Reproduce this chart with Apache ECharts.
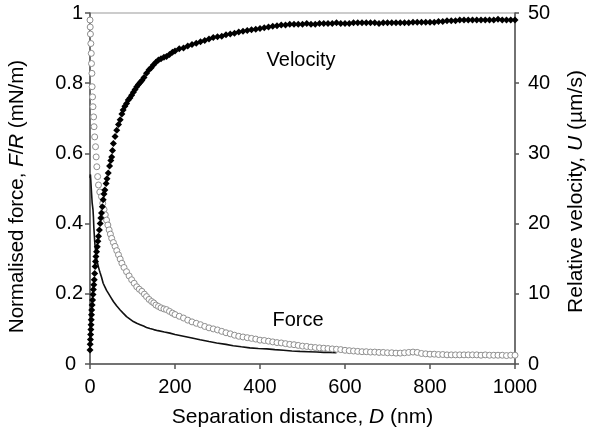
<!DOCTYPE html>
<html>
<head>
<meta charset="utf-8">
<script src="https://cdn.jsdelivr.net/npm/echarts@6/dist/echarts.min.js"></script>
<style>
html,body{margin:0;padding:0;background:#fff;}
#chart{width:589px;height:437px;}
</style>
</head>
<body>
<div id="chart"></div>
<script>
// Separation distance D (nm) for each series
const velDist = [0,0.5,1,1.5,2,2.5,3,3.5,4,5,6,7,8,9,10,11,12,13,14,15.5,17,18.5,20,22,24,25.5,27,29,31,33,35,38,40,43,46,49,51,53,55,59,63,67,71,75,78,82,86,90,94,98,102,106,110,114,118,122,127,133,139,144,149,155,161,167,174,180,187,194,200,210,220,230,240,250,260,270,280,290,300,310,320,330,340,350,360,370,380,390,400,410,420,430,440,450,460,470,480,490,500,510,520,530,540,550,560,570,580,590,600,610,620,630,640,650,660,670,680,690,700,710,720,730,740,750,760,770,780,790,800,810,820,830,840,850,860,870,880,890,900,910,920,930,940,950,960,970,980,990,1000];
// Relative velocity U (µm/s)
const velocity = [2.0,2.8,3.5,4.2,4.9,5.6,6.3,7.0,7.7,8.4,9.1,9.9,10.6,11.3,12.0,12.9,13.9,14.6,15.3,16.0,16.7,17.5,18.2,19.1,20.0,20.8,21.5,22.4,23.4,24.2,24.8,25.7,26.4,27.2,28.2,29.0,29.5,30.4,31.4,32.4,33.3,34.1,34.8,35.6,36.2,36.7,37.1,37.6,37.9,38.3,38.7,39.1,39.5,39.8,40.1,40.4,40.8,41.4,41.9,42.2,42.6,43.0,43.3,43.5,43.7,43.8,44.1,44.4,44.6,44.9,45.0,45.3,45.5,45.7,45.9,46.1,46.3,46.5,46.6,46.7,46.9,47.0,47.1,47.3,47.4,47.5,47.6,47.7,47.8,47.9,48.0,48.1,48.2,48.3,48.3,48.4,48.4,48.4,48.4,48.5,48.4,48.4,48.5,48.5,48.5,48.5,48.6,48.5,48.5,48.5,48.6,48.6,48.6,48.6,48.6,48.6,48.5,48.6,48.6,48.6,48.6,48.6,48.6,48.6,48.7,48.7,48.7,48.7,48.7,48.7,48.8,48.8,48.9,48.9,48.9,49.0,49.0,49.0,49.0,49.0,49.0,49.0,49.0,49.0,49.1,49.0,49.0,49.0,49.0,49.0];

const circDist = [0,0.5,1,2,3,3.5,4.5,5,6,7,8.5,9.5,11,13,14.5,16,18,20,23,27,30,33,36,39,42,45,48,51,55,59,63,67,71,75,80,86,92,98,104,110,116,122,128,133,139,145,150,155,161,167,174,180,187,194,200,210,220,230,240,250,260,270,280,290,300,310,320,330,340,350,360,370,380,390,400,410,420,430,440,450,460,470,480,490,500,510,520,530,540,550,560,570,580,590,600,610,620,630,640,650,660,670,680,690,700,710,720,730,740,750,760,770,780,790,800,810,820,830,840,850,860,870,880,890,900,910,920,930,940,950,960,970,980,990,1000];
// Normalised force F/R (mN/m), open circles
const forceCircles = [0.98,0.96,0.94,0.913,0.885,0.856,0.828,0.79,0.761,0.733,0.704,0.676,0.647,0.619,0.59,0.562,0.534,0.51,0.49,0.477,0.458,0.44,0.425,0.41,0.396,0.382,0.37,0.358,0.346,0.335,0.323,0.311,0.299,0.287,0.275,0.263,0.251,0.24,0.23,0.22,0.213,0.207,0.199,0.192,0.184,0.178,0.174,0.168,0.164,0.16,0.157,0.155,0.15,0.145,0.141,0.136,0.131,0.125,0.12,0.116,0.112,0.107,0.103,0.1,0.097,0.093,0.089,0.086,0.082,0.079,0.077,0.075,0.073,0.071,0.068,0.067,0.065,0.063,0.061,0.06,0.058,0.056,0.055,0.053,0.051,0.05,0.048,0.047,0.046,0.045,0.044,0.043,0.042,0.041,0.039,0.038,0.037,0.036,0.035,0.035,0.034,0.034,0.033,0.033,0.032,0.032,0.031,0.031,0.032,0.033,0.034,0.033,0.03,0.029,0.028,0.028,0.027,0.027,0.026,0.026,0.026,0.026,0.026,0.026,0.026,0.026,0.025,0.026,0.025,0.025,0.025,0.025,0.024,0.025,0.025];

const lineDist = [0,1,2,3,4,5,6,7,8,9,10,11,12,14,16,18,20,22,24,27,31,35,39,43,49,55,63,71,78,86,94,102,110,118,126,133,141,150,160,175,188,200,220,240,259,280,298,320,337,356,376,396,416,435,455,475,494,514,533,550,565,580];
// Normalised force F/R (mN/m), solid line
const forceLine = [0.53,0.54,0.52,0.50,0.48,0.46,0.45,0.44,0.42,0.39,0.37,0.35,0.335,0.315,0.297,0.286,0.276,0.267,0.259,0.248,0.23,0.22,0.21,0.202,0.19,0.178,0.165,0.154,0.145,0.135,0.128,0.121,0.116,0.112,0.108,0.104,0.101,0.098,0.095,0.091,0.088,0.084,0.079,0.074,0.069,0.064,0.06,0.056,0.052,0.049,0.046,0.044,0.043,0.041,0.039,0.037,0.036,0.035,0.034,0.033,0.033,0.032];

const xTicks = [0,200,400,600,800,1000];
const yLeftTicks = [0,0.2,0.4,0.6,0.8,1];
const yRightTicks = [0,10,20,30,40,50];

const zip = (a,b) => a.map((v,i)=>[v,b[i]]);
const FONT = '"Liberation Sans", Arial, sans-serif';
const axisCol = '#555';
const richFor = size => ({
  n:{fontSize:size,fontFamily:FONT,color:'#000'},
  i:{fontSize:size,fontFamily:FONT,color:'#000',fontStyle:'italic'}
});

const chart = echarts.init(document.getElementById('chart'), null, {renderer:'canvas'});
chart.setOption({
  animation:false,
  backgroundColor:'#fff',
  textStyle:{fontFamily:FONT},
  grid:{left:90,right:74,top:13,bottom:73,containLabel:false,outerBoundsMode:'none',
        show:true,borderColor:'#999',borderWidth:1},
  xAxis:{
    type:'value',min:xTicks[0],max:xTicks[xTicks.length-1],interval:200,
    axisLine:{show:true,lineStyle:{color:axisCol,width:1.5}},
    axisTick:{show:true,inside:false,length:5,lineStyle:{color:axisCol,width:1.5}},
    splitLine:{show:false},
    axisLabel:{color:'#000',fontSize:20,fontFamily:FONT,margin:13,formatter:v=>String(v)},
    name:'{n|Separation distance, }{i|D}{n| (nm)}',
    nameLocation:'middle',nameGap:43,
    nameTextStyle:{rich:richFor(21)}
  },
  yAxis:[{
    type:'value',min:yLeftTicks[0],max:yLeftTicks[yLeftTicks.length-1],interval:0.2,position:'left',
    axisLine:{show:true,lineStyle:{color:axisCol,width:1.5}},
    axisTick:{show:true,inside:false,length:5,lineStyle:{color:axisCol,width:1.5}},
    splitLine:{show:false},
    axisLabel:{color:'#000',fontSize:20,fontFamily:FONT,margin:7,
      formatter:v=> v===0 ? '{z|0}' : String(v),
      rich:{z:{fontSize:20,fontFamily:FONT,color:'#000',padding:[0,7,0,0]}}},
    name:'{n|Normalised force, }{i|F}{n|/}{i|R}{n| (mN/m)}',
    nameLocation:'middle',nameGap:62,nameRotate:90,
    nameTextStyle:{rich:richFor(20.5),padding:[0,16,0,0]}
  },{
    type:'value',min:yRightTicks[0],max:yRightTicks[yRightTicks.length-1],interval:10,position:'right',
    axisLine:{show:true,lineStyle:{color:axisCol,width:1.5}},
    axisTick:{show:true,inside:false,length:4,lineStyle:{color:axisCol,width:1.5}},
    splitLine:{show:false},
    axisLabel:{color:'#000',fontSize:20,fontFamily:FONT,margin:13},
    name:'{n|Relative velocity, }{i|U}{n| (µm/s)}',
    nameLocation:'middle',nameGap:51,nameRotate:90,
    nameTextStyle:{rich:richFor(21),padding:[0,6,0,0]}
  }],
  series:[{
    type:'line',name:'Force (line)',yAxisIndex:0,data:zip(lineDist,forceLine),
    showSymbol:false,symbol:'none',lineStyle:{color:'#111',width:1.6},z:2
  },{
    type:'scatter',name:'Force',yAxisIndex:0,data:zip(circDist,forceCircles),
    symbol:'circle',symbolSize:6,
    itemStyle:{color:'#fff',borderColor:'#8f8f8f',borderWidth:1,opacity:1},z:3
  },{
    type:'scatter',name:'Velocity',yAxisIndex:1,data:zip(velDist,velocity),
    symbol:'diamond',symbolSize:[7,7],
    itemStyle:{color:'#000',opacity:1},z:4
  }],
  graphic:[
    {type:'text',x:301,y:60,style:{text:'Velocity',font:'20px '+FONT,fill:'#000',textAlign:'center',textVerticalAlign:'middle'}},
    {type:'text',x:298,y:320,style:{text:'Force',font:'20px '+FONT,fill:'#000',textAlign:'center',textVerticalAlign:'middle'}}
  ]
});
</script>
</body>
</html>
